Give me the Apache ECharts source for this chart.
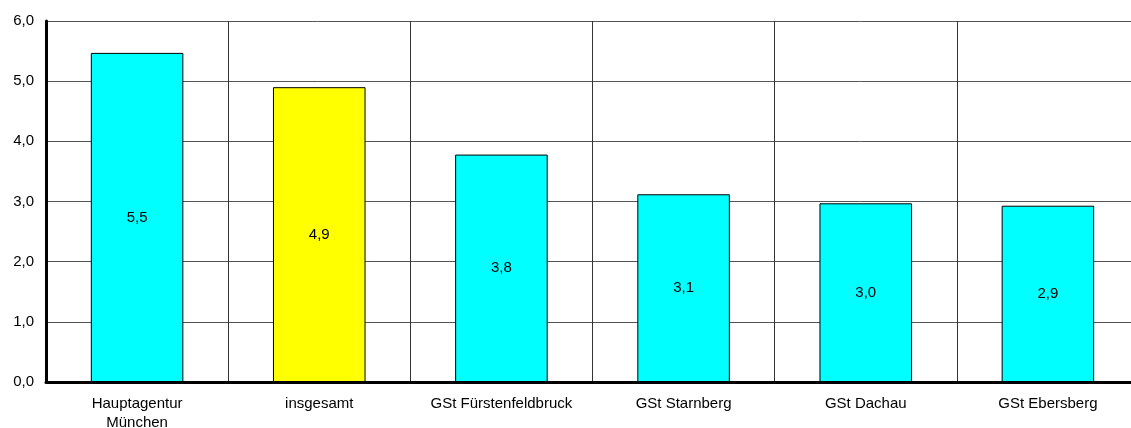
<!DOCTYPE html>
<html>
<head>
<meta charset="utf-8">
<script src="https://cdn.jsdelivr.net/npm/echarts@6/dist/echarts.min.js"></script>
<style>html,body{margin:0;padding:0;background:#fff;overflow:hidden;}#c{width:1131px;height:428px;}</style>
</head>
<body>
<div id="c"></div>
<script>
const categories = ['Hauptagentur\nMünchen', 'insgesamt', 'GSt Fürstenfeldbruck', 'GSt Starnberg', 'GSt Dachau', 'GSt Ebersberg'];
const values = [5.47, 4.90, 3.78, 3.12, 2.97, 2.93];
const labelTexts = ['5,5', '4,9', '3,8', '3,1', '3,0', '2,9'];
const barColors = ['#00FFFF', '#FFFF00', '#00FFFF', '#00FFFF', '#00FFFF', '#00FFFF'];
const yTicks = [0, 1, 2, 3, 4, 5, 6];

const chart = echarts.init(document.getElementById('c'), null, {renderer: 'canvas'});
const font = 'Liberation Sans, Arial, sans-serif';
chart.setOption({
  animation: false,
  grid: {left: 46, right: -8, top: 21, bottom: 46, containLabel: false, outerBoundsMode: 'none'},
  xAxis: {
    type: 'category',
    data: categories,
    axisLine: {show: true, onZero: false, lineStyle: {color: '#000', width: 3}},
    axisTick: {show: false},
    splitLine: {show: true, lineStyle: {color: '#333', width: 1}},
    axisLabel: {color: '#000', fontFamily: font, fontSize: 15, margin: 12, lineHeight: 19, interval: 0}
  },
  yAxis: {
    type: 'value',
    min: 0, max: 6, interval: 1,
    axisLine: {show: true, lineStyle: {color: '#000', width: 3}},
    axisTick: {show: false},
    splitLine: {show: true, lineStyle: {color: '#555', width: 1}},
    axisLabel: {color: '#000', fontFamily: font, fontSize: 15, margin: 12,
      formatter: v => v.toFixed(1).replace('.', ',')}
  },
  series: [{
    type: 'bar',
    barWidth: '50.8%',
    data: values.map((v, i) => ({value: v, itemStyle: {color: barColors[i]}})),
    itemStyle: {borderColor: '#000', borderWidth: 1},
    label: {show: true, position: 'inside', color: '#000', fontFamily: font, fontSize: 15,
      formatter: p => labelTexts[p.dataIndex]}
  }]
});
</script>
</body>
</html>
